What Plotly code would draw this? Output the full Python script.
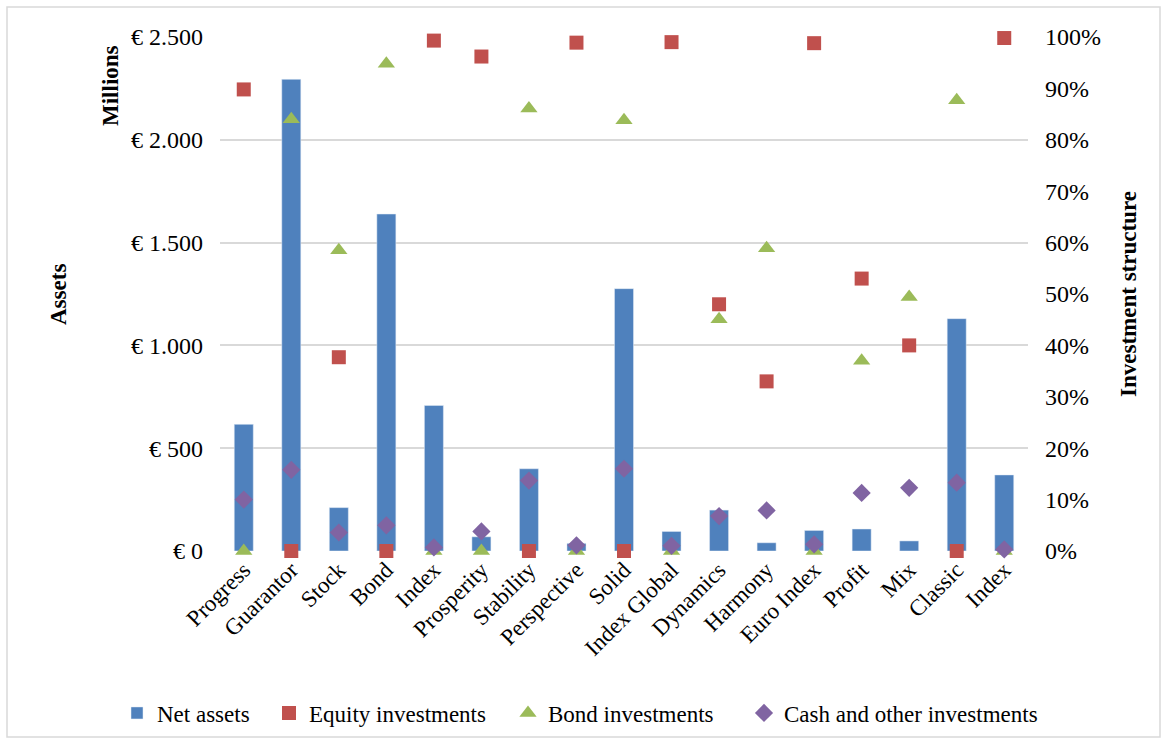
import plotly.graph_objects as go

categories = ["Progress", "Guarantor", "Stock", "Bond", "Index", "Prosperity", "Stability",
              "Perspective", "Solid", "Index Global", "Dynamics", "Harmony", "Euro Index",
              "Profit", "Mix", "Classic", "Index"]
net_assets = [616, 2294, 211, 1639, 708, 69, 400, 37, 1276, 95, 199, 40, 100, 107, 49, 1130, 370]
equity_pct = [89.8, 0, 37.7, 0, 99.3, 96.2, 0, 98.9, 0, 99.0, 48.0, 33.0, 98.8, 53.0, 40.0, 0, 99.8]
bond_pct = [0, 84.0, 58.5, 94.8, 0, 0, 86.1, 0, 83.8, 0, 45.1, 58.9, 0, 37.0, 49.4, 87.7, 0]
cash_pct = [10.0, 15.8, 3.6, 5.0, 0.7, 3.8, 13.7, 1.1, 16.0, 1.0, 6.8, 7.9, 1.3, 11.3, 12.3, 13.3, 0.3]
left_ticks = [0, 500, 1000, 1500, 2000, 2500]
left_labels = ["€ 0", "€ 500", "€ 1.000", "€ 1.500", "€ 2.000", "€ 2.500"]

x = list(range(len(categories)))
FONT = "Liberation Serif, Times New Roman, serif"

fig = go.Figure()
fig.add_trace(go.Bar(x=x, y=net_assets, name="Net assets", marker_color="#4F81BD",
                     width=0.4, yaxis="y", legend="legend"))
fig.add_trace(go.Scatter(x=x, y=equity_pct, name="Equity investments", mode="markers",
                         cliponaxis=False, legend="legend2",
                         marker=dict(symbol="square", size=14, color="#C0504D"), yaxis="y2"))
fig.add_trace(go.Scatter(x=x, y=bond_pct, name="Bond investments", mode="markers",
                         cliponaxis=False, legend="legend3",
                         marker=dict(symbol="triangle-up", size=15, color="#9BBB59"), yaxis="y2"))
fig.add_trace(go.Scatter(x=x, y=cash_pct, name="Cash and other investments", mode="markers",
                         cliponaxis=False, legend="legend4",
                         marker=dict(symbol="diamond", size=14, color="#8064A2"), yaxis="y2"))


def leg(px):
    return dict(orientation="h", xref="container", yref="container", x=px / 1167,
                y=1 - 713 / 744, xanchor="left", yanchor="middle",
                font=dict(family=FONT, size=23), itemwidth=30, bgcolor="rgba(0,0,0,0)")


fig.update_layout(
    width=1167, height=744,
    margin=dict(l=220, r=139, t=37, b=193),
    paper_bgcolor="white", plot_bgcolor="white",
    font=dict(family=FONT, size=23, color="black"),
    bargap=0.6,
    xaxis=dict(tickmode="array", tickvals=x, ticktext=categories, tickangle=-45,
               range=[-0.5, 16.5], showgrid=False, zeroline=False, showline=False,
               ticks="", tickfont=dict(size=23)),
    yaxis=dict(range=[0, 2500], tickmode="array", tickvals=left_ticks, ticktext=left_labels,
               showgrid=True, gridcolor="#D9D9D9", gridwidth=1.5, zeroline=False,
               showline=False, ticks="", ticklabelstandoff=16,
               tickfont=dict(size=24)),
    yaxis2=dict(range=[0, 100], overlaying="y", side="right", dtick=10, ticksuffix="%",
                showgrid=False, zeroline=False, showline=False, ticks="",
                ticklabelstandoff=16, tickfont=dict(size=24)),
    legend=leg(117),
    legend2=leg(269),
    legend3=leg(508),
    legend4=leg(744),
    showlegend=True,
    annotations=[
        dict(text="<b>Assets</b>", xref="paper", yref="paper", x=(58 - 220) / 808,
             y=(551 - 295) / 514, showarrow=False, textangle=-90, font=dict(size=23),
             xanchor="center", yanchor="middle"),
        dict(text="<b>Millions</b>", xref="paper", yref="paper", x=(110 - 220) / 808,
             y=(551 - 85) / 514, showarrow=False, textangle=-90, font=dict(size=23),
             xanchor="center", yanchor="middle"),
        dict(text="<b>Investment structure</b>", xref="paper", yref="paper",
             x=(1128 - 220) / 808, y=0.5, showarrow=False, textangle=-90,
             font=dict(size=23), xanchor="center", yanchor="middle"),
    ],
    shapes=[
        dict(type="rect", xref="paper", yref="paper",
             x0=(7 - 220) / 808, x1=(1160 - 220) / 808,
             y0=(551 - 737) / 514, y1=(551 - 7) / 514,
             line=dict(color="#D9D9D9", width=1.5), fillcolor="rgba(0,0,0,0)", layer="below"),
    ],
)

fig.write_html("out.html")
